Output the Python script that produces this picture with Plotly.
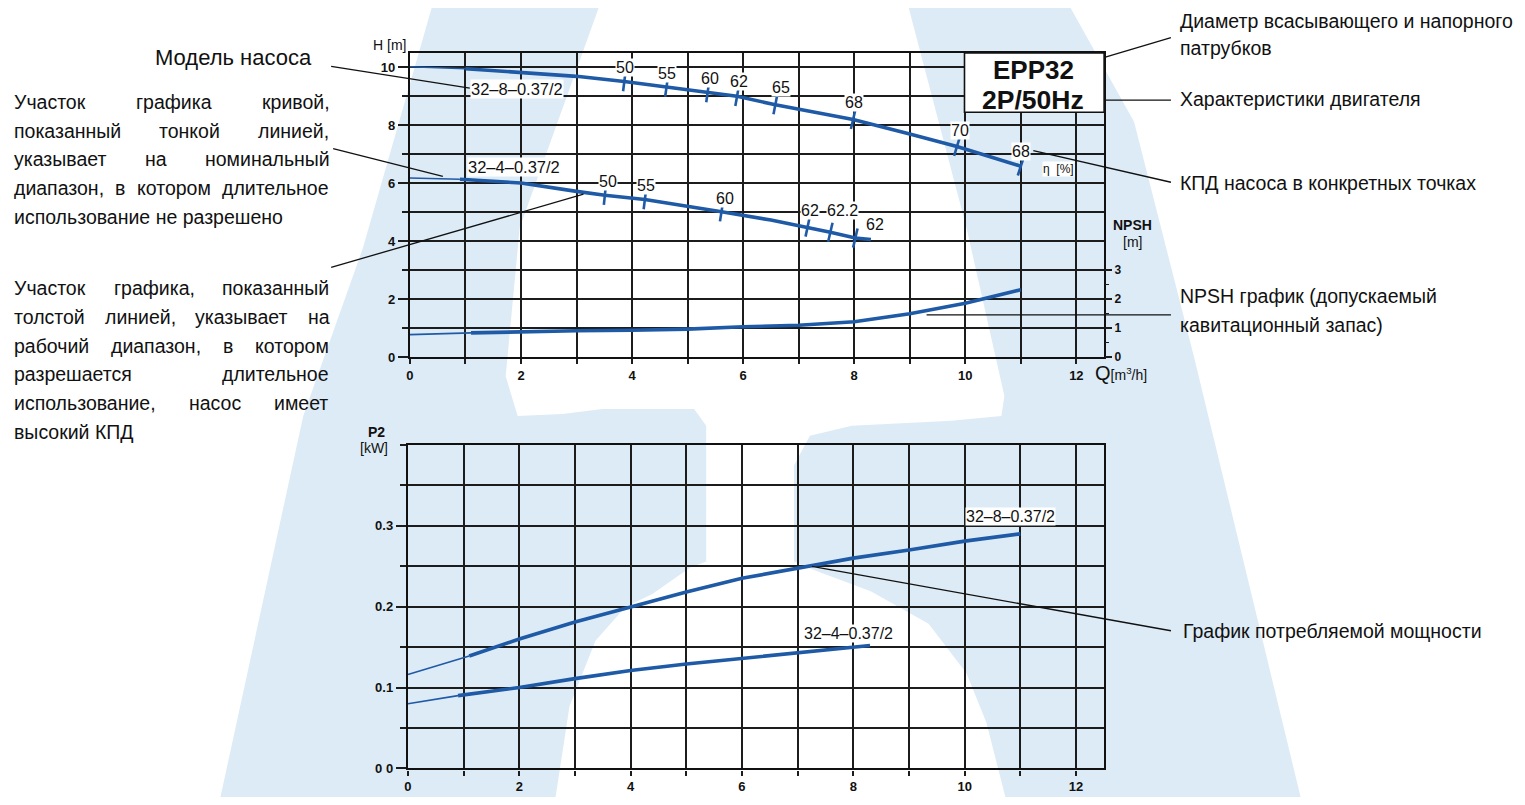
import plotly.graph_objects as go

W, H = 1525, 805
OFF = 8  # page body margin of the browser

# ---------------- data ----------------
# Q-H curve 32-8-0.37/2
q_h8 = [0.0, 1.0, 2.0, 3.0, 3.86, 4.62, 5.36, 5.89, 6.58, 7.0, 7.98, 9.0, 9.85, 11.0]
h_h8 = [10.02, 9.95, 9.83, 9.69, 9.51, 9.32, 9.13, 9.0, 8.71, 8.55, 8.2, 7.70, 7.27, 6.59]
h8_thin_end = 1.0
# efficiency points on 32-8
eff8_q = [3.86, 4.62, 5.36, 5.89, 6.58, 7.98, 9.85, 11.0]
eff8_h = [9.51, 9.32, 9.13, 9.0, 8.71, 8.2, 7.27, 6.59]
eff8_v = ["50", "55", "60", "62", "65", "68", "70", "68"]

# Q-H curve 32-4-0.37/2
q_h4 = [0.0, 0.9, 2.0, 3.0, 3.51, 4.23, 5.0, 5.61, 6.5, 7.16, 7.57, 8.02, 8.3]
h_h4 = [6.18, 6.14, 6.01, 5.72, 5.59, 5.44, 5.21, 5.02, 4.73, 4.49, 4.31, 4.11, 4.06]
h4_thin_end = 0.9
eff4_q = [3.51, 4.23, 5.61, 7.16, 7.57, 8.02]
eff4_h = [5.59, 5.44, 5.02, 4.49, 4.31, 4.11]
eff4_v = ["50", "55", "60", "62", "62.2", "62"]

# NPSH curve
q_npsh = [0.0, 1.1, 2.0, 3.0, 4.0, 5.0, 6.0, 7.0, 8.0, 9.0, 10.0, 11.0]
v_npsh = [0.78, 0.84, 0.88, 0.91, 0.93, 0.97, 1.05, 1.10, 1.22, 1.50, 1.86, 2.33]
npsh_thin_end = 1.1

# P2 curves
q_p8 = [0.0, 1.1, 2.0, 3.0, 4.0, 5.0, 6.0, 7.0, 8.0, 9.0, 10.0, 11.0]
p_p8 = [0.116, 0.139, 0.160, 0.181, 0.200, 0.218, 0.235, 0.248, 0.260, 0.270, 0.281, 0.290]
p8_thin_end = 1.1
q_p4 = [0.0, 0.9, 2.0, 3.0, 4.0, 5.0, 6.0, 7.0, 8.0, 8.3]
p_p4 = [0.080, 0.090, 0.100, 0.111, 0.121, 0.129, 0.136, 0.143, 0.150, 0.152]
p4_thin_end = 0.9

x_ticks = [0, 2, 4, 6, 8, 10, 12]
h_ticks = [0, 2, 4, 6, 8, 10]
npsh_ticks = [0, 1, 2, 3]
p_ticks = [0, 0.1, 0.2, 0.3]
p_ticktext = ["0 0", "0.1", "0.2", "0.3"]

# ---------------- styles ----------------
BLUE = "#1f5aa6"
WM = "rgba(221,235,246,1)"
SANS = "Liberation Sans, Arial, sans-serif"
GRID = "#1c1c1c"


def px(x, y):
    return (x - OFF) / W, 1 - (y - OFF) / H


def split(q, v, qs):
    thin_q = [a for a in q if a <= qs]
    thin_v = [b for a, b in zip(q, v) if a <= qs]
    thick_q = [a for a in q if a >= qs]
    thick_v = [b for a, b in zip(q, v) if a >= qs]
    return (thin_q, thin_v), (thick_q, thick_v)


fig = go.Figure()


def add_curve(q, v, qs, xa, ya):
    (tq, tv), (kq, kv) = split(q, v, qs)
    fig.add_trace(go.Scatter(x=tq, y=tv, mode="lines", xaxis=xa, yaxis=ya,
                             line=dict(color=BLUE, width=1.6), hoverinfo="skip",
                             showlegend=False))
    fig.add_trace(go.Scatter(x=kq, y=kv, mode="lines", xaxis=xa, yaxis=ya,
                             line=dict(color=BLUE, width=3.6), hoverinfo="skip",
                             showlegend=False))


add_curve(q_h8, h_h8, h8_thin_end, "x", "y")
add_curve(q_h4, h_h4, h4_thin_end, "x", "y")
add_curve(q_npsh, v_npsh, npsh_thin_end, "x", "y2")
add_curve(q_p8, p_p8, p8_thin_end, "x2", "y3")
add_curve(q_p4, p_p4, p4_thin_end, "x2", "y3")

# efficiency tick marks
eff8_angle = [7, 8, 8, 10, 11, 13, 17, 18]
eff4_angle = [6, 7, 9, 12, 13, 13]
for q, h, ang in ((eff8_q, eff8_h, eff8_angle), (eff4_q, eff4_h, eff4_angle)):
    fig.add_trace(go.Scatter(x=q, y=h, mode="markers", xaxis="x", yaxis="y",
                             marker=dict(symbol="line-ns", size=14, angle=ang,
                                         line=dict(color=BLUE, width=2.6)),
                             hoverinfo="skip", showlegend=False))

# ---------------- axes ----------------
tx0, tx1 = (407 - OFF) / W, (1103 - OFF) / W
ty0, ty1 = 1 - (360.7 - OFF) / H, 1 - (53.3 - OFF) / H
bx0, bx1 = (405 - OFF) / W, (1102.7 - OFF) / W
by0, by1 = 1 - (776 - OFF) / H, 1 - (449.3 - OFF) / H

tickfont = dict(family=SANS, size=13, color="#111", weight="bold")
common_x = dict(range=[0, 12.5], tickvals=x_ticks, showgrid=True, gridcolor=GRID,
                gridwidth=1.6, ticks="outside", ticklen=5, tickwidth=1.6,
                tickcolor=GRID, showline=True, linecolor="#111", linewidth=2.4,
                mirror=True, zeroline=False, tickfont=tickfont,
                minor=dict(dtick=1, tick0=0, showgrid=True, gridcolor=GRID,
                           gridwidth=1.6, ticks="outside", ticklen=5,
                           tickcolor=GRID, tickwidth=1.6))

fig.update_layout(
    xaxis=dict(domain=[tx0, tx1], anchor="y", **common_x),
    yaxis=dict(domain=[ty0, ty1], anchor="x", range=[0, 10.5], tickvals=h_ticks,
               showgrid=True, gridcolor=GRID, gridwidth=1.6, ticks="outside",
               ticklen=10, tickwidth=1.6, tickcolor=GRID, showline=True,
               linecolor="#111", linewidth=2.4, mirror=True, zeroline=False,
               tickfont=tickfont,
               minor=dict(dtick=1, tick0=0, showgrid=True, gridcolor=GRID,
                          gridwidth=1.6, ticks="outside", ticklen=6,
                          tickcolor=GRID, tickwidth=1.6)),
    yaxis2=dict(overlaying="y", anchor="x", side="right", range=[0, 10.5],
                tickvals=npsh_ticks, showgrid=False, ticks="outside", ticklen=7,
                tickwidth=1.6, tickcolor=GRID, showline=False, zeroline=False,
                tickfont=dict(family=SANS, size=12, color="#111", weight="bold"),
                minor=dict(tickvals=[0.5, 1.5, 2.5], ticks="outside", ticklen=4,
                           tickcolor=GRID, tickwidth=1.4, showgrid=False)),
    xaxis2=dict(domain=[bx0, bx1], anchor="y3", **common_x),
    yaxis3=dict(domain=[by0, by1], anchor="x2", range=[0, 0.4], tickvals=p_ticks,
                ticktext=p_ticktext, showgrid=True, gridcolor=GRID, gridwidth=1.6,
                ticks="outside", ticklen=10, tickwidth=1.6, tickcolor=GRID,
                showline=True, linecolor="#111", linewidth=2.4, mirror=True,
                zeroline=False, tickfont=tickfont,
                minor=dict(dtick=0.05, tick0=0, showgrid=True, gridcolor=GRID,
                           gridwidth=1.6, ticks="outside", ticklen=6,
                           tickcolor=GRID, tickwidth=1.6)),
    width=W, height=H, margin=dict(l=0, r=0, t=0, b=0),
    paper_bgcolor="white", plot_bgcolor="rgba(0,0,0,0)", showlegend=False,
)

# ---------------- watermark (background) ----------------
wm_left = [(431, 0), (599, 0), (517, 230), (503, 380), (515, 420), (560, 418),
           (600, 413), (692, 413), (704, 430), (704, 567), (688, 573), (650, 600),
           (623, 613), (593, 647), (567, 713), (553, 805), (217, 805), (300, 420),
           (360, 250)]
wm_right = [(905, 0), (1065, 0), (1133, 123), (1193, 360), (1300, 805), (1004, 805),
            (985, 730), (965, 680), (927, 630), (869, 597), (810, 575), (792, 567),
            (792, 470), (808, 440), (850, 430), (950, 425), (1000, 420), (1003, 400),
            (965, 230)]


def path_of(pts):
    s = ""
    for i, (x, y) in enumerate(pts):
        a, b = px(x, y)
        s += ("M" if i == 0 else "L") + f"{a:.5f},{b:.5f} "
    return s + "Z"


for pts in (wm_left, wm_right):
    fig.add_shape(type="path", path=path_of(pts), xref="paper", yref="paper",
                  fillcolor=WM, line=dict(width=0), layer="below")

# ---------------- leader lines ----------------
leaders = [((328, 67), (467, 89)), ((330, 150), (440, 178)), ((328, 270), (581, 196)),
           ((1073, 67), (1170, 38)), ((1087, 101), (1170, 101)),
           ((1032, 152), (1170, 184)), ((925, 318), (1170, 318)),
           ((810, 572), (1170, 637))]
for (x0, y0), (x1, y1) in leaders:
    a0, b0 = px(x0, y0)
    a1, b1 = px(x1, y1)
    fig.add_shape(type="line", x0=a0, y0=b0, x1=a1, y1=b1, xref="paper",
                  yref="paper", line=dict(color="#111", width=1.3), layer="above")

# model box
a0, b0 = px(963, 53.3)
a1, b1 = px(1103, 113.3)
fig.add_shape(type="rect", x0=a0, y0=b0, x1=a1, y1=b1, xref="paper", yref="paper",
              fillcolor="white", line=dict(color="#111", width=1.6), layer="above")


def note(x, y, text, size=20, family=SANS, anchor="center", bg=None, weight=None,
         color="#111"):
    a, b = px(x, y)
    f = dict(family=family, size=size, color=color)
    if weight:
        f["weight"] = weight
    kw = dict(x=a, y=b, xref="paper", yref="paper", text=text, showarrow=False,
              xanchor=anchor, yanchor="middle", font=f)
    if bg:
        kw.update(bgcolor=bg, borderpad=0)
    fig.add_annotation(**kw)


note(1032, 71, "EPP32", size=26, weight="bold")
note(1032, 101, "2P/50Hz", size=26.5, weight="bold")

# efficiency labels (offsets in pixels relative to tick points)
eff8_shift = [(1, 14), (0, 14), (2, 14), (2, 15), (6, 17), (1, 17), (3, 16), (0, 15)]
eff4_shift = [(3, 14), (1, 14), (3, 13), (2, 17), (12, 22), (20, 14)]
for qs, hs, vs, sh in ((eff8_q, eff8_h, eff8_v, eff8_shift),
                       (eff4_q, eff4_h, eff4_v, eff4_shift)):
    for q, h, v, (dx, dy) in zip(qs, hs, vs, sh):
        fig.add_annotation(x=q, y=h, xref="x", yref="y", text=v, showarrow=False,
                           xshift=dx, yshift=dy, bgcolor="white", borderpad=0,
                           font=dict(family=SANS, size=16, color="#111"))

note(514, 90, "32–8–0.37/2", size=16.5, bg="white")
note(511, 169, "32–4–0.37/2", size=16.5, bg="white")
note(1057, 171, "η  [%]", size=12, bg="white")
note(1009, 522, "32–8–0.37/2", size=16, bg="white")
note(847, 640, "32–4–0.37/2", size=16, bg="white")

# axis titles
note(386, 45, "H [m]", size=14)
note(1131, 227, "NPSH", size=14, weight="bold")
note(1131, 244, "[m]", size=14)
note(1120, 377, "Q<span style='font-size:14px'>[m<sup>3</sup>/h]</span>", size=20)
note(373, 436, "P2", size=14, weight="bold")
note(371, 452, "[kW]", size=14)

# right-hand notes
RS = 19.5
note(1177, 21, "Диаметр всасывающего и напорного", size=RS, anchor="left")
note(1177, 48, "патрубков", size=RS, anchor="left")
note(1177, 100, "Характеристики двигателя", size=RS, anchor="left")
note(1177, 185, "КПД насоса в конкретных точках", size=RS, anchor="left")
note(1177, 299, "NPSH график (допускаемый", size=RS, anchor="left")
note(1177, 328, "кавитационный запас)", size=RS, anchor="left")
note(1180, 637, "График потребляемой мощности", size=RS, anchor="left")

# left-hand notes: justified paragraphs (approximate glyph widths, em units)
LS = 19.5
CW = {"а": .556, "б": .573, "в": .531, "г": .365, "д": .583, "е": .556, "ж": .669,
      "з": .458, "и": .559, "й": .559, "к": .438, "л": .583, "м": .688, "н": .552,
      "о": .556, "п": .542, "р": .556, "с": .5, "т": .458, "у": .5, "ф": .823,
      "х": .5, "ц": .56, "ч": .522, "ш": .823, "щ": .833, "ъ": .625, "ы": .719,
      "ь": .521, "э": .51, "ю": .75, "я": .542, "У": .635, "К": .583, "П": .722,
      "Д": .688, ",": .278, " ": .278}


def text_w(s, size):
    return sum(CW.get(c, .55) for c in s) * size


TX0, TX1 = 8, 324


def justified(y, line, last=False):
    words = line.split(" ")
    if last or len(words) == 1:
        note(TX0, y, line, size=LS, anchor="left")
        return
    widths = [text_w(w, LS) for w in words]
    gap = (TX1 - TX0 - sum(widths)) / (len(words) - 1)
    x = TX0
    for w, wd in zip(words, widths):
        note(x, y, w, size=LS, anchor="left")
        x += wd + gap


note(230, 58, "Модель насоса", size=22)
para1 = ["Участок графика кривой,", "показанный тонкой линией,",
         "указывает на номинальный", "диапазон, в котором длительное",
         "использование не разрешено"]
para2 = ["Участок графика, показанный", "толстой линией, указывает на",
         "рабочий диапазон, в котором", "разрешается длительное",
         "использование, насос имеет", "высокий КПД"]
for i, line in enumerate(para1):
    justified(103 + 29 * i, line, last=(i == len(para1) - 1))
for i, line in enumerate(para2):
    justified(291 + 29 * i, line, last=(i == len(para2) - 1))

fig.write_html("out.html")
